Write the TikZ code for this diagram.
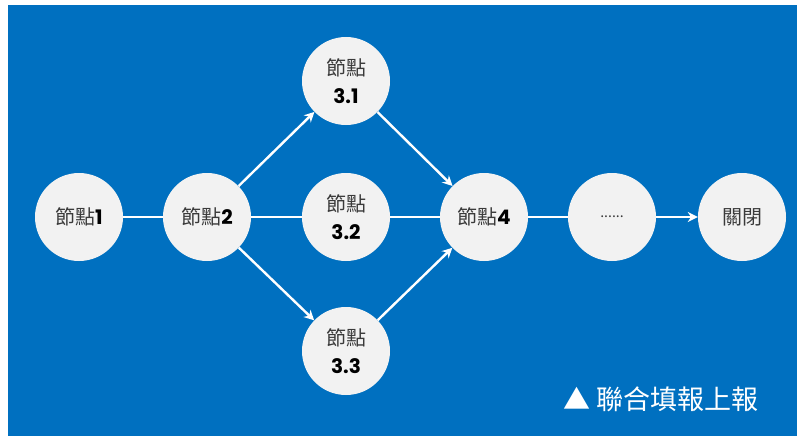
\documentclass[tikz,border=0pt]{standalone}
\usepackage{fontspec}
\setmainfont{Noto Sans CJK TC}
\newfontfamily\numfont{Poppins}
\usetikzlibrary{arrows.meta}
\definecolor{bgblue}{HTML}{0070C0}
\definecolor{nodefill}{HTML}{F2F2F2}
\definecolor{txtgray}{HTML}{3A3A3A}
\tikzset{
  circnode/.style={circle, fill=nodefill, minimum size=88pt, inner sep=0pt, text=txtgray, font=\fontsize{20}{24}\selectfont, align=center},
  conn/.style={white, line width=2.4pt},
  arr/.style={conn, -{Stealth[length=10pt,width=10pt]}},
}
\newcommand{\numb}[1]{{\numfont\bfseries\color{black}#1}}
\begin{document}
\begin{tikzpicture}[x=1pt,y=-1pt]
\useasboundingbox (0,0) rectangle (797,436);
\fill[white] (0,0) rectangle (797,436);
\fill[bgblue] (8,5) rectangle (797,436);
\node[circnode] (n1) at (79,217) {節點\numb{1}};
\node[circnode] (n2) at (207,217) {節點\numb{2}};
\node[circnode] (n31) at (346,81) {節點\\[4pt]\numb{3.1}};
\node[circnode] (n32) at (346,217) {節點\\[4pt]\numb{3.2}};
\node[circnode] (n33) at (346,351) {節點\\[4pt]\numb{3.3}};
\node[circnode] (n4) at (484,217) {節點\numb{4}};
\node[circnode] (dots) at (612,217) {\fontsize{14}{16}\selectfont ......};
\node[circnode] (close) at (742,217) {關閉};
\draw[conn] (n1) -- (n2);
\draw[arr] (n2) -- (n31);
\draw[conn] (n2) -- (n32);
\draw[arr] (n2) -- (n33);
\draw[arr] (n31) -- (n4);
\draw[conn] (n32) -- (n4);
\draw[arr] (n33) -- (n4);
\draw[conn] (n4) -- (dots);
\draw[arr] (dots) -- (close);
\node[text=white, font=\fontsize{27}{32}\selectfont, anchor=west] (cap) at (560,399) {▲ 聯合填報上報};
\end{tikzpicture}
\end{document}
